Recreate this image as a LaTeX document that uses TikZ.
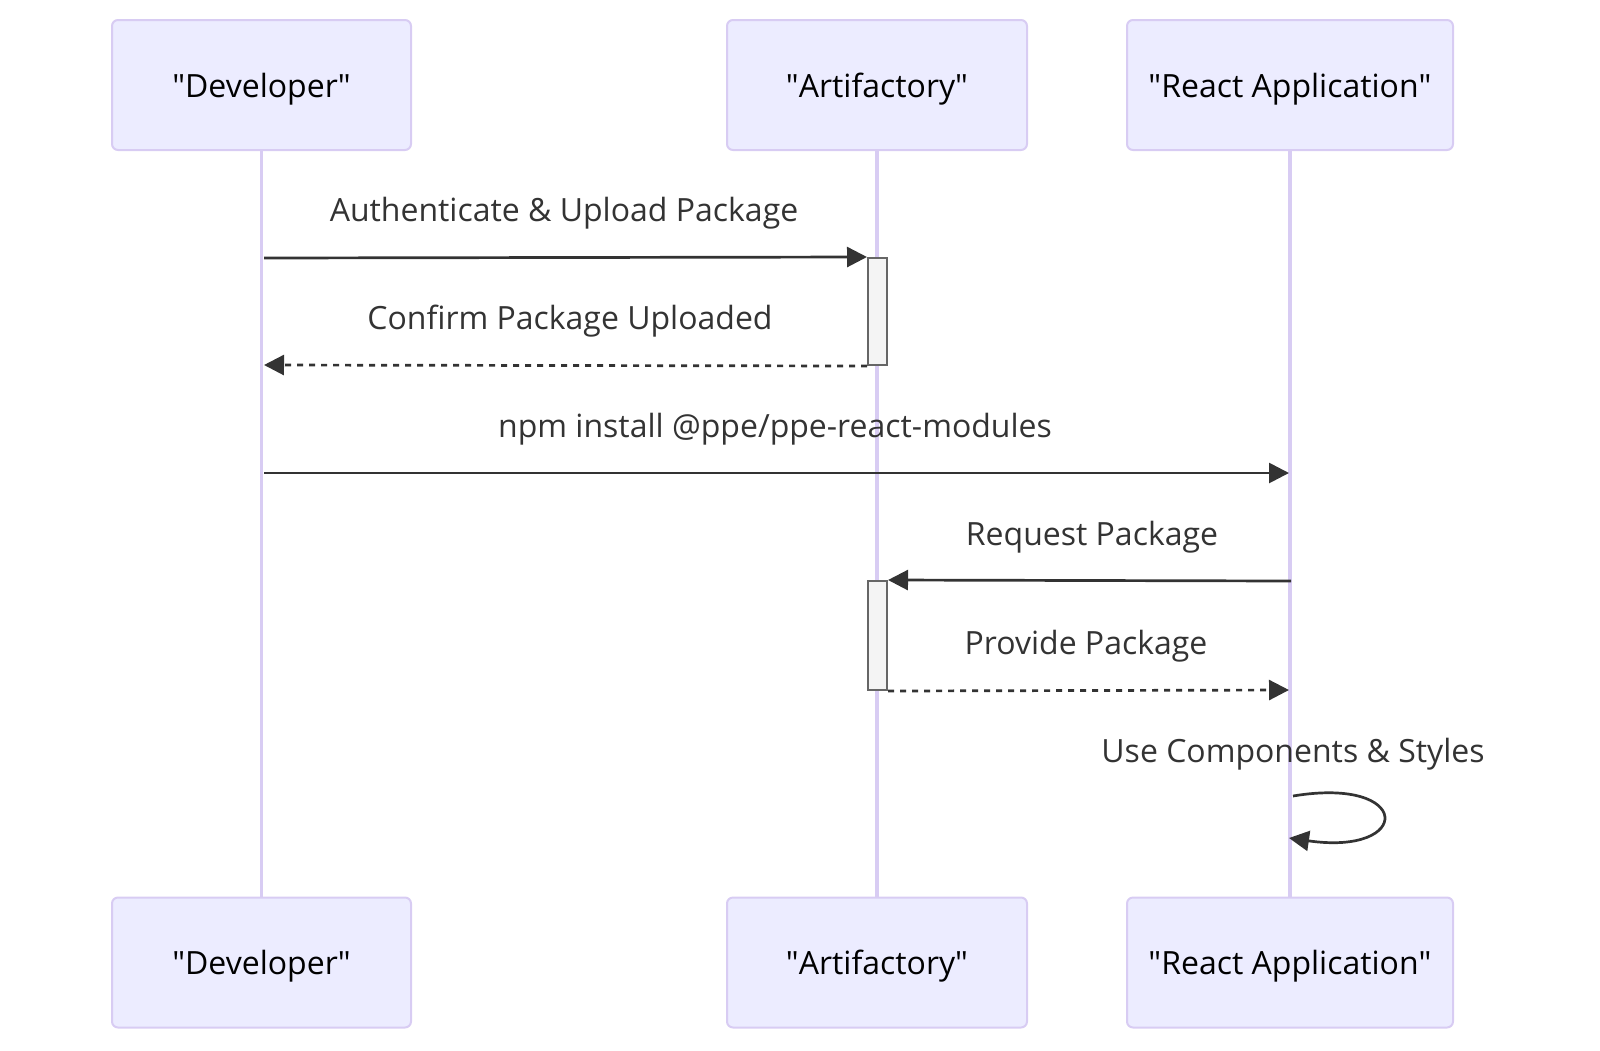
\documentclass[tikz,border=0pt]{standalone}
\usepackage{fontspec}
\setmainfont{Open Sans}
\usetikzlibrary{arrows.meta}
\definecolor{actfill}{HTML}{ECECFF}
\definecolor{actline}{HTML}{D8CCF3}
\definecolor{msgcol}{HTML}{333333}
\definecolor{actvfill}{HTML}{F4F4F4}
\definecolor{actvline}{HTML}{666666}
\newcommand{\qq}[1]{\textquotedbl#1\textquotedbl}
\begin{document}
\begin{tikzpicture}[x=1pt,y=-1pt,
  actor/.style={draw=actline, line width=2pt, fill=actfill, rounded corners=6pt,
    minimum height=130pt, text height=30pt, text depth=6pt,
    font=\fontsize{32}{38}\selectfont, text=black, inner sep=0pt},
  lifeline/.style={draw=actline, line width=3.2pt},
  activ/.style={draw=actvline, fill=actvfill, line width=2pt, minimum width=19pt, inner sep=0pt},
  msg/.style={draw=msgcol, line width=2.7pt, -{Triangle[length=20pt,width=20pt]}},
  reply/.style={msg, dash pattern=on 6pt off 6pt},
  lbl/.style={text=msgcol, font=\fontsize{32}{38}\selectfont, anchor=base, inner sep=0pt}]
\useasboundingbox (0,0) rectangle (1600,1050);

% actors
\node[actor, minimum width=299pt] (devT) at (261.5,85) {\qq{Developer}};
\node[actor, minimum width=300pt] (artT) at (877,85) {\qq{Artifactory}};
\node[actor, minimum width=326pt] (reaT) at (1290,85) {\qq{React Application}};
\node[actor, minimum width=299pt] (devB) at (261.5,962.5) {\qq{Developer}};
\node[actor, minimum width=300pt] (artB) at (877,962.5) {\qq{Artifactory}};
\node[actor, minimum width=326pt] (reaB) at (1290,962.5) {\qq{React Application}};

% lifelines
\draw[lifeline] (devT.south) -- (devB.north);
\draw[lifeline] (artT.south) -- (artB.north);
\draw[lifeline] (reaT.south) -- (reaB.north);

% activations
\node[activ, minimum height=107pt] (act1) at (877.5,311.5) {};
\node[activ, minimum height=109pt] (act2) at (877.5,635.5) {};

% message end points
\coordinate (m1s) at (264,258);
\coordinate (m2e) at (264,365);
\coordinate (m3s) at (264,473);
\coordinate (m3e) at (1289,473);
\coordinate (m4s) at (1291,581);
\coordinate (m5e) at (1289,690);
\coordinate (s1) at (1293,796);
\coordinate (s2) at (1289,838);

% messages
\draw[msg] (m1s) -- (act1.north west);
\draw[reply] (act1.south west) -- (m2e);
\draw[msg] (m3s) -- (m3e);
\draw[msg] (m4s) -- (act2.north east);
\draw[reply] (act2.south east) -- (m5e);
\draw[msg] (s1) .. controls (1413,776) and (1413,856) .. (s2);

% labels
\node[lbl] (l1) at (564,221) {Authenticate \& Upload Package};
\node[lbl] (l2) at (570,329) {Confirm Package Uploaded};
\node[lbl] (l3) at (775,437) {npm install @ppe/ppe-react-modules};
\node[lbl] (l4) at (1092,545) {Request Package};
\node[lbl] (l5) at (1086,654) {Provide Package};
\node[lbl] (l6) at (1293,762) {Use Components \& Styles};
\end{tikzpicture}
\end{document}
